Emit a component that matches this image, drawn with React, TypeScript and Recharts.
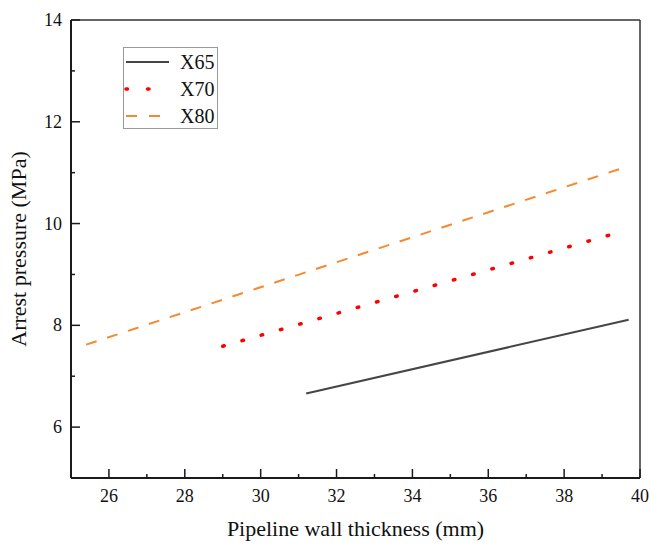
import { LineChart, Line, XAxis, YAxis, ReferenceLine } from 'recharts'

// Wall thickness (mm) vs arrest pressure (MPa), one pair of arrays per grade
const thicknessX65 = [31.2, 39.7]
const pressureX65 = [6.66, 8.11]
const thicknessX70 = [29.0, 39.6]
const pressureX70 = [7.59, 9.86]
const thicknessX80 = [25.4, 39.7]
const pressureX80 = [7.62, 11.13]

const xTicks = [26, 27, 28, 29, 30, 31, 32, 33, 34, 35, 36, 37, 38, 39, 40]
const yTicks = [6, 7, 8, 9, 10, 11, 12, 13, 14]

const FONT = '"Liberation Serif", "Times New Roman", Times, serif'
const AXIS = '#1a1a1a'

const toRows = (xs: number[], ys: number[]) => xs.map((t, i) => ({ t, p: ys[i] }))

const seriesX65 = toRows(thicknessX65, pressureX65)
const seriesX70 = toRows(thicknessX70, pressureX70)
const seriesX80 = toRows(thicknessX80, pressureX80)

// ticks point inward, odd values are unlabeled minor ticks
const XTick = ({ x, y, payload }: any) => {
  const major = payload.value % 2 === 0
  return (
    <g>
      <line x1={x} x2={x} y1={y} y2={y - (major ? 9 : 4)} stroke={AXIS} strokeWidth={1.5} />
      {major && (
        <text x={x} y={y + 24} textAnchor="middle" style={{ fontSize: 18, fontFamily: FONT }} fill="#111">
          {payload.value}
        </text>
      )}
    </g>
  )
}

const YTick = ({ x, y, payload }: any) => {
  const major = payload.value % 2 === 0
  return (
    <g>
      <line x1={x} x2={x + (major ? 9 : 4)} y1={y} y2={y} stroke={AXIS} strokeWidth={1.5} />
      {major && (
        <text x={x - 9} y={y + 6} textAnchor="end" style={{ fontSize: 18, fontFamily: FONT }} fill="#111">
          {payload.value}
        </text>
      )}
    </g>
  )
}

const legendItems = [
  { name: 'X65', color: '#454545', width: 2, dash: undefined },
  { name: 'X70', color: '#ff0000', width: 3.5, dash: '1.5 20' },
  { name: 'X80', color: '#f7882f', width: 2, dash: '11 12' },
]

function LegendBox() {
  return (
    <div
      style={{
        position: 'absolute',
        left: 123,
        top: 47,
        width: 93,
        height: 80,
        border: '1px solid #999',
        background: '#fff',
      }}
    >
      <svg width={93} height={80}>
        {legendItems.map((item, i) => {
          const cy = 14 + i * 27
          return (
            <g key={item.name}>
              <line
                x1={2}
                x2={45}
                y1={cy}
                y2={cy}
                stroke={item.color}
                strokeWidth={item.width}
                strokeDasharray={item.dash}
                strokeLinecap={item.name === 'X70' ? 'round' : 'butt'}
              />
              <text x={56} y={cy + 7} style={{ fontSize: 20, fontFamily: FONT }} fill="#111">
                {item.name}
              </text>
            </g>
          )
        })}
      </svg>
    </div>
  )
}

export default function App() {
  return (
    <div
      style={{
        position: 'absolute',
        left: 0,
        top: 0,
        width: 651,
        height: 545,
        background: '#fff',
        fontFamily: FONT,
      }}
    >
      <LineChart width={651} height={545} margin={{ top: 20, right: 11, left: 0, bottom: 0 }}>
        <XAxis
          type="number"
          dataKey="t"
          domain={[25, 40]}
          ticks={xTicks}
          interval={0}
          allowDataOverflow
          height={67}
          tickSize={0}
          tickMargin={0}
          tickLine={false}
          axisLine={{ stroke: AXIS, strokeWidth: 2 }}
          tick={<XTick />}
          label={{
            value: 'Pipeline wall thickness (mm)',
            position: 'insideBottom',
            offset: 9,
            fontSize: 22,
            fontFamily: FONT,
            fill: '#111',
          }}
        />
        <YAxis
          type="number"
          domain={[5, 14]}
          ticks={yTicks}
          interval={0}
          allowDataOverflow
          width={71}
          tickSize={0}
          tickMargin={0}
          tickLine={false}
          axisLine={{ stroke: AXIS, strokeWidth: 2 }}
          tick={<YTick />}
          label={{
            value: 'Arrest pressure (MPa)',
            angle: -90,
            position: 'insideLeft',
            offset: 18,
            style: { textAnchor: 'middle' },
            fontSize: 22,
            fontFamily: FONT,
            fill: '#111',
          }}
        />
        <ReferenceLine y={14} stroke="#333" strokeWidth={1.5} ifOverflow="visible" />
        <ReferenceLine x={40} stroke="#333" strokeWidth={1.5} ifOverflow="visible" />
        <Line
          data={seriesX80}
          dataKey="p"
          type="linear"
          stroke="#f7882f"
          strokeWidth={2}
          strokeDasharray="11 11"
          dot={false}
          activeDot={false}
          isAnimationActive={false}
        />
        <Line
          data={seriesX70}
          dataKey="p"
          type="linear"
          stroke="#ff0000"
          strokeWidth={3.5}
          strokeDasharray="1.5 18.5"
          strokeLinecap="round"
          dot={false}
          activeDot={false}
          isAnimationActive={false}
        />
        <Line
          data={seriesX65}
          dataKey="p"
          type="linear"
          stroke="#454545"
          strokeWidth={2}
          dot={false}
          activeDot={false}
          isAnimationActive={false}
        />
      </LineChart>
      <LegendBox />
    </div>
  )
}
